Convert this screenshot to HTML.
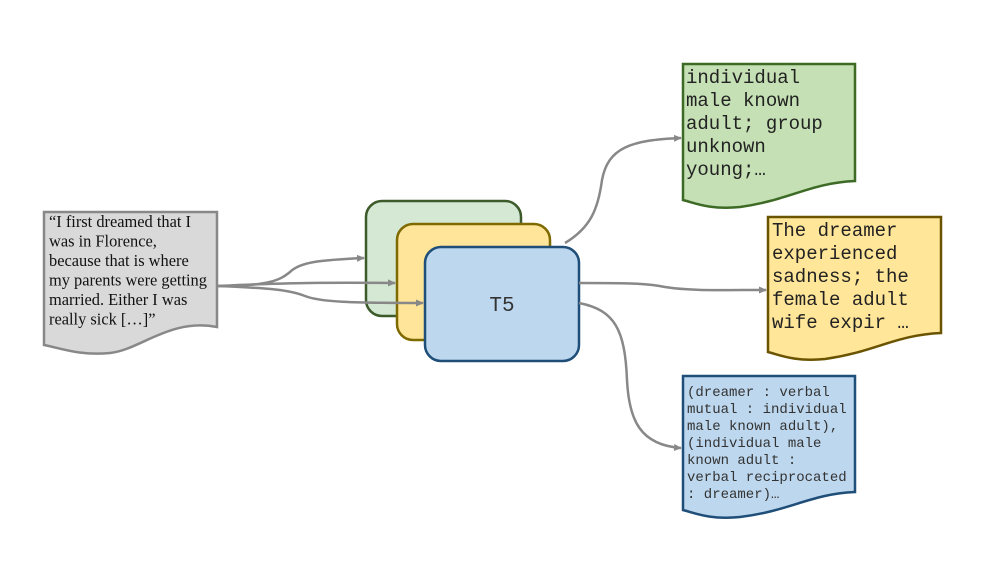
<!DOCTYPE html>
<html><head><style>
body{margin:0;background:#fff;}
</style></head><body>
<svg width="1000" height="582" viewBox="0 0 1000 582" xmlns="http://www.w3.org/2000/svg">
<defs>
<marker id="a" markerWidth="8" markerHeight="8" refX="7" refY="4" orient="auto" markerUnits="userSpaceOnUse">
<path d="M0,0.5 L8,4 L0,7.5 z" fill="#888"/></marker>
</defs>
<path d="M44,212 H217 V327 C170,318 140,350 110,353 C80,356 60,348 44,345 Z" fill="#d9d9d9" stroke="#888" stroke-width="2.5"/>
<g font-family="Liberation Serif, serif" font-size="16.4" fill="#111">
<text x="49" y="227">“I first dreamed that I</text>
<text x="49" y="246.5">was in Florence,</text>
<text x="49" y="266">because that is where</text>
<text x="49" y="285.5">my parents were getting</text>
<text x="49" y="305">married. Either I was</text>
<text x="49" y="324.5">really sick […]”</text>
</g>
<rect x="366" y="201" width="155" height="115" rx="16" fill="#d5e8d4" stroke="#3d5a2a" stroke-width="2.5"/>
<rect x="397" y="224" width="153" height="116" rx="16" fill="#ffe599" stroke="#7f6a00" stroke-width="2.5"/>
<rect x="425" y="247" width="154" height="114" rx="16" fill="#bdd7ee" stroke="#1f4e79" stroke-width="2.5"/>
<text x="502" y="311" text-anchor="middle" font-family="Liberation Mono, monospace" font-size="21" fill="#333">T5</text>
<g fill="none" stroke="#888" stroke-width="2.5">
<path d="M217,286 C270,286 280,280 290,272 C300,262 320,260 364,258" marker-end="url(#a)"/>
<path d="M217,286 C260,284 300,282 395,283" marker-end="url(#a)"/>
<path d="M217,286 C270,288 290,290 305,296 C320,302 350,303 423,303" marker-end="url(#a)"/>
<path d="M565,243 C590,228 598,210 602,180 C608,148 630,140 681,138" marker-end="url(#a)"/>
<path d="M579,283 C640,283 650,284 665,287 C690,291 720,290 766,290" marker-end="url(#a)"/>
<path d="M579,303 C615,310 625,330 627,380 C629,420 640,445 681,448" marker-end="url(#a)"/>
</g>
<path d="M683,64 H855 V181 C810,183 790,200 740,207 C710,210 695,203 683,200 Z" fill="#c5e0b4" stroke="#3d6b25" stroke-width="2.5"/>
<g font-family="Liberation Mono, monospace" font-size="19" fill="#222">
<text x="686" y="83">individual</text>
<text x="686" y="106">male known</text>
<text x="686" y="129">adult; group</text>
<text x="686" y="152">unknown</text>
<text x="686" y="175">young;…</text>
</g>
<path d="M768,217 H941 V333 C895,335 875,352 825,359 C795,362 780,355 768,352 Z" fill="#ffe699" stroke="#6b5400" stroke-width="2.5"/>
<g font-family="Liberation Mono, monospace" font-size="19" fill="#222">
<text x="772" y="236">The dreamer</text>
<text x="772" y="259">experienced</text>
<text x="772" y="282">sadness; the</text>
<text x="772" y="305">female adult</text>
<text x="772" y="328">wife expir …</text>
</g>
<path d="M683,376 H855 V492 C810,494 790,511 740,517 C710,520 695,513 683,510 Z" fill="#bdd7ee" stroke="#1f4e79" stroke-width="2.5"/>
<g font-family="Liberation Mono, monospace" font-size="14" fill="#333">
<text x="687" y="396">(dreamer : verbal</text>
<text x="687" y="413">mutual : individual</text>
<text x="687" y="430">male known adult),</text>
<text x="687" y="447">(individual male</text>
<text x="687" y="464">known adult :</text>
<text x="687" y="481">verbal reciprocated</text>
<text x="687" y="498">: dreamer)…</text>
</g>
</svg>
</body></html>
